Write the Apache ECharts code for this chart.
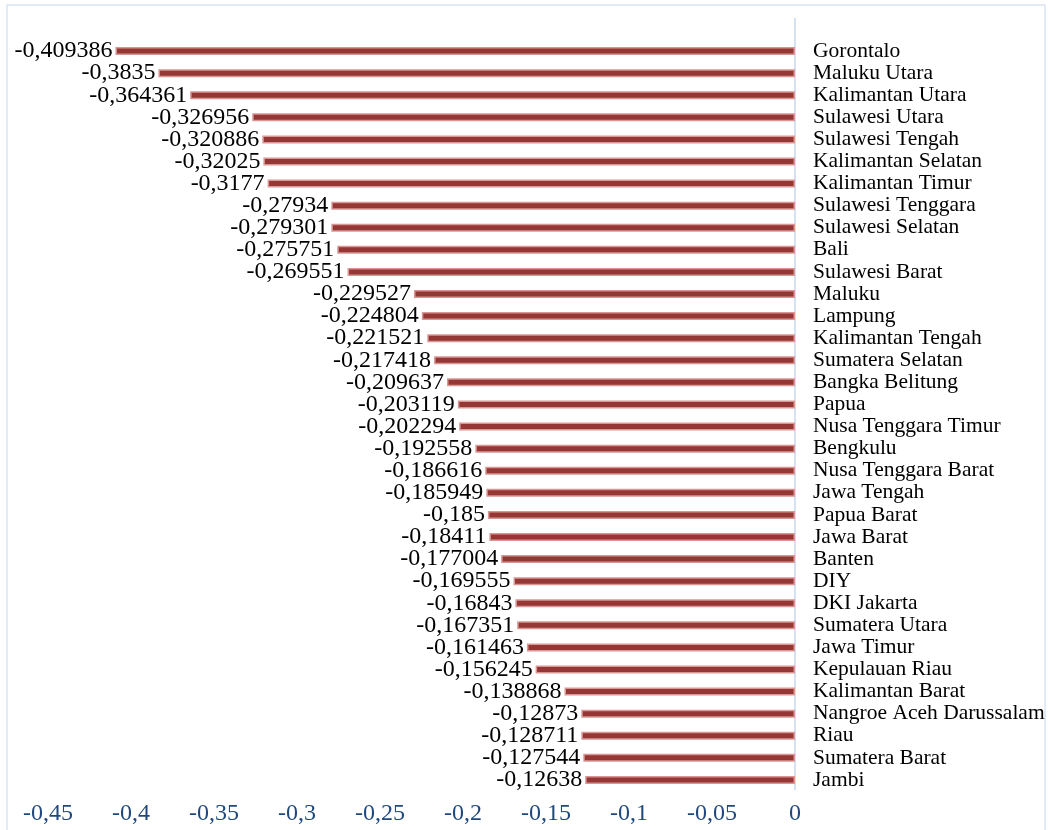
<!DOCTYPE html>
<html>
<head>
<meta charset="utf-8">
<script src="https://cdn.jsdelivr.net/npm/echarts@6/dist/echarts.min.js"></script>
<style>
  html, body { margin: 0; padding: 0; background: #fff; }
  #chart { width: 1050px; height: 830px; }
</style>
</head>
<body>
<div id="chart"></div>
<script>
// provinces, top to bottom
const provinces = [
  'Gorontalo', 'Maluku Utara', 'Kalimantan Utara', 'Sulawesi Utara', 'Sulawesi Tengah',
  'Kalimantan Selatan', 'Kalimantan Timur', 'Sulawesi Tenggara', 'Sulawesi Selatan', 'Bali',
  'Sulawesi Barat', 'Maluku', 'Lampung', 'Kalimantan Tengah', 'Sumatera Selatan',
  'Bangka Belitung', 'Papua', 'Nusa Tenggara Timur', 'Bengkulu', 'Nusa Tenggara Barat',
  'Jawa Tengah', 'Papua Barat', 'Jawa Barat', 'Banten', 'DIY',
  'DKI Jakarta', 'Sumatera Utara', 'Jawa Timur', 'Kepulauan Riau', 'Kalimantan Barat',
  'Nangroe Aceh Darussalam', 'Riau', 'Sumatera Barat', 'Jambi'
]
const values = [
  -0.409386, -0.3835, -0.364361, -0.326956, -0.320886,
  -0.32025, -0.3177, -0.27934, -0.279301, -0.275751,
  -0.269551, -0.229527, -0.224804, -0.221521, -0.217418,
  -0.209637, -0.203119, -0.202294, -0.192558, -0.186616,
  -0.185949, -0.185, -0.18411, -0.177004, -0.169555,
  -0.16843, -0.167351, -0.161463, -0.156245, -0.138868,
  -0.12873, -0.128711, -0.127544, -0.12638
]
const xMin = -0.45
const xMax = 0
const xStep = 0.05

const serif = 'Liberation Serif'
const comma = v => String(v).replace('.', ',')

const chart = echarts.init(document.getElementById('chart'))
chart.setOption({
  animation: false,
  grid: { left: 48, right: 255, top: 40, bottom: 39 },
  xAxis: {
    type: 'value',
    min: xMin,
    max: xMax,
    interval: xStep,
    axisLine: { show: false },
    axisTick: { show: false },
    splitLine: { show: false },
    axisLabel: {
      margin: 11,
      color: '#1f497d',
      fontFamily: serif,
      fontSize: 24,
      formatter: v => comma(Math.round(v * 100) / 100)
    }
  },
  yAxis: {
    type: 'category',
    data: provinces,
    inverse: true,
    position: 'right',
    axisLine: { show: false },
    axisTick: { show: false },
    axisLabel: {
      interval: 0,
      margin: 18,
      color: '#000',
      fontFamily: serif,
      fontSize: 21.5
    }
  },
  series: [{
    type: 'bar',
    data: values,
    barWidth: 8,
    itemStyle: { color: '#953735', borderColor: '#d99694', borderWidth: 1.5 },
    label: {
      show: true,
      position: 'left',
      distance: 3,
      color: '#000',
      fontFamily: serif,
      fontSize: 24,
      formatter: p => comma(p.value)
    }
  }]
})

// frame and vertical axis line (the axis runs above the first row)
const x0 = chart.convertToPixel({ xAxisIndex: 0 }, 0)
chart.setOption({
  graphic: [
    {
      type: 'rect',
      shape: { x: 7, y: 5, width: 1038, height: 840 },
      style: { fill: 'none', stroke: '#d9e3f0', lineWidth: 1.5 },
      silent: true
    },
    {
      type: 'line',
      shape: { x1: x0, y1: 18, x2: x0, y2: 790 },
      style: { stroke: '#c6d9f1', lineWidth: 1.5 },
      silent: true
    }
  ]
})
</script>
</body>
</html>
